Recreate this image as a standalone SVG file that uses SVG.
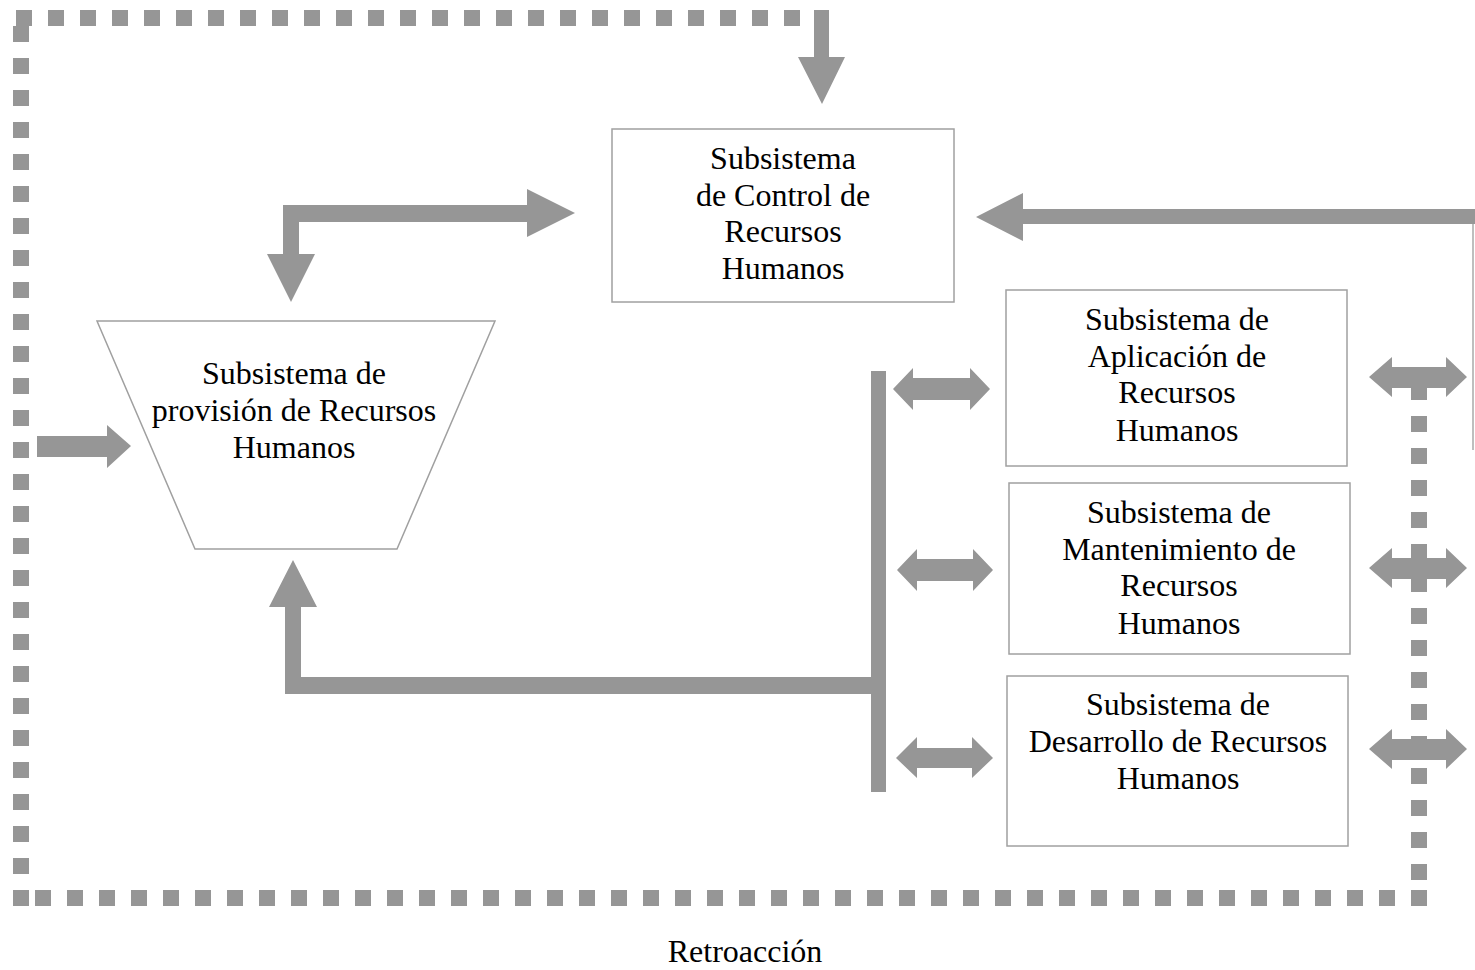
<svg xmlns="http://www.w3.org/2000/svg" width="1475" height="970" viewBox="0 0 1475 970">
<style>
.arr{fill:#969696;stroke:none}
.box{fill:#fff;stroke:#a0a0a0;stroke-width:1.5}
.thin{stroke:#a8a8a8;stroke-width:1.5;fill:none}
text{font-family:"Liberation Serif","Times New Roman",serif;font-size:32px;fill:#000;text-anchor:middle}
</style>
<defs>
<pattern id="dh" x="16" y="10" width="32" height="16" patternUnits="userSpaceOnUse"><rect x="0" y="0" width="16" height="16" fill="#969696"/></pattern>
<pattern id="db" x="35" y="890" width="32" height="16" patternUnits="userSpaceOnUse"><rect x="0" y="0" width="16" height="16" fill="#969696"/></pattern>
<pattern id="dl" x="13" y="26" width="16" height="32" patternUnits="userSpaceOnUse"><rect x="0" y="0" width="16" height="16" fill="#969696"/></pattern>
<pattern id="dr" x="1411" y="384" width="16" height="32" patternUnits="userSpaceOnUse"><rect x="0" y="0" width="16" height="16" fill="#969696"/></pattern>
</defs>
<g id="connectors">
<!-- feedback loop dashes -->
<rect x="16" y="10" width="784" height="16" fill="url(#dh)"/>
<rect x="13" y="26" width="16" height="848" fill="url(#dl)"/>
<rect x="13" y="890" width="16" height="16" fill="#969696"/>
<rect x="35" y="890" width="1392" height="16" fill="url(#db)"/>
<rect x="1411" y="384" width="16" height="496" fill="url(#dr)"/>
<!-- top arrow into control -->
<polygon class="arr" points="814,10 829,10 829,57 845,57 822,104 798,57 814,57"/>
<!-- elbow arrow control <-> provision -->
<polygon class="arr" points="283,205 527,205 527,189 575,213 527,237 527,222 299,222 299,254 315,254 291,302 267,254 283,254"/>
<!-- long arrow from right into control -->
<polygon class="arr" points="1475,209 1475,224 1023,224 1023,241 976,217 1023,193 1023,209"/>
<line class="thin" x1="1473" y1="224" x2="1473" y2="450"/>
<!-- input arrow -->
<polygon class="arr" points="37,436 107,436 107,425 131,446 107,468 107,457 37,457"/>
<!-- bottom return to provision -->
<polygon class="arr" points="871,677 871,694 285,694 285,607 269,607 293,560 317,607 301,607 301,677"/>
<rect class="arr" x="871" y="371" width="15" height="421"/>
<!-- middle double arrows -->
<polygon class="arr" points="893,389 913,368 913,378 970,378 970,368 990,389 970,410 970,400 913,400 913,410"/>
<polygon class="arr" points="897,570 917,549 917,559 973,559 973,549 993,570 973,591 973,581 917,581 917,591"/>
<polygon class="arr" points="896,758 917,737 917,748 972,748 972,737 993,758 972,778 972,768 917,768 917,778"/>
<!-- right double arrows -->
<polygon class="arr" points="1369,377 1392,357 1392,367 1446,367 1446,357 1467,377 1446,397 1446,388 1392,388 1392,397"/>
<polygon class="arr" points="1369,568 1392,548 1392,558 1446,558 1446,548 1467,568 1446,588 1446,579 1392,579 1392,588"/>
<polygon class="arr" points="1369,749 1392,729 1392,739 1446,739 1446,729 1467,749 1446,769 1446,760 1392,760 1392,769"/>
</g>
<g id="control">
<rect class="box" x="612" y="129" width="342" height="173"/>
<text x="783" y="169">Subsistema</text>
<text x="783" y="206">de Control de</text>
<text x="783" y="242">Recursos</text>
<text x="783" y="279">Humanos</text>
</g>
<g id="provision">
<polygon class="box" points="97,321 495,321 397,549 195,549"/>
<text x="294" y="384">Subsistema de</text>
<text x="294" y="421">provisión de Recursos</text>
<text x="294" y="458">Humanos</text>
</g>
<g id="aplicacion">
<rect class="box" x="1006" y="290" width="341" height="176"/>
<text x="1177" y="330">Subsistema de</text>
<text x="1177" y="367">Aplicación de</text>
<text x="1177" y="403">Recursos</text>
<text x="1177" y="441">Humanos</text>
</g>
<g id="mantenimiento">
<rect class="box" x="1009" y="483" width="341" height="171"/>
<text x="1179" y="523">Subsistema de</text>
<text x="1179" y="560">Mantenimiento de</text>
<text x="1179" y="596">Recursos</text>
<text x="1179" y="634">Humanos</text>
</g>
<g id="desarrollo">
<rect class="box" x="1007" y="676" width="341" height="170"/>
<text x="1178" y="715">Subsistema de</text>
<text x="1178" y="752">Desarrollo de Recursos</text>
<text x="1178" y="789">Humanos</text>
</g>
<g id="label">
<text x="745" y="962">Retroacción</text>
</g>
</svg>
